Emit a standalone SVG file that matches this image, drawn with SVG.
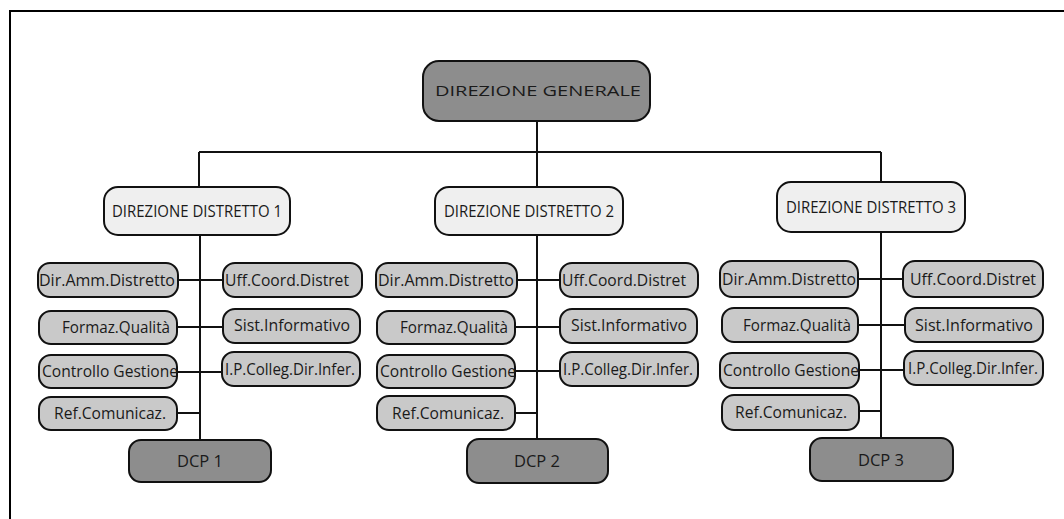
<svg xmlns="http://www.w3.org/2000/svg" width="1064" height="519" viewBox="0 0 1064 519">
<style>
.sub{fill:#c9c9c9;stroke:#111;stroke-width:2}
.dist{fill:#efefef;stroke:#111;stroke-width:2}
.dark{fill:#8d8d8d;stroke:#111;stroke-width:2}
.t{font-family:"Open Sans","Liberation Sans",sans-serif;font-size:16px;fill:#1a1a1a;text-anchor:middle}
.g{font-size:14px}
.c{stroke:#111;stroke-width:2;fill:none}
</style>
<rect width="1064" height="519" fill="#fff"/>
<path d="M10,519 V11 H1064" fill="none" stroke="#000" stroke-width="2"/>
<g id="connectors">
<path class="c" d="M537,121 V152 M199,152 H881 M199,152 V187 M537,152 V187 M881,152 V182"/>
<path class="c" d="M200,235 V440 M178,280 H223 M177,327 H223 M177,372 H222 M177,413 H200"/>
<path class="c" d="M537,235 V439 M517,280 H560 M515,327 H560 M515,371 H560 M515,413 H537"/>
<path class="c" d="M881,232 V438 M858,279 H903 M858,325 H905 M859,370 H904 M859,411 H881"/>
</g>
<g id="dg"><rect class="dark" x="423" y="61" width="227" height="60" rx="16"/><text class="t g" x="538" y="96" textLength="206" lengthAdjust="spacingAndGlyphs">DIREZIONE GENERALE</text></g>

<g id="dist1"><rect class="dist" x="104" y="187" width="186" height="48" rx="14"/><text class="t" x="197" y="217" textLength="170" lengthAdjust="spacingAndGlyphs">DIREZIONE DISTRETTO 1</text></g>
<g id="d1-amm"><rect class="sub" x="38" y="263" width="140" height="34" rx="12"/><text class="t" x="107" y="286" textLength="136" lengthAdjust="spacingAndGlyphs">Dir.Amm.Distretto</text></g>
<g id="d1-uff"><rect class="sub" x="223" y="263" width="139" height="34" rx="12"/><text class="t" x="287" y="286" textLength="124" lengthAdjust="spacingAndGlyphs">Uff.Coord.Distret</text></g>
<g id="d1-form"><rect class="sub" x="39" y="311" width="138" height="33" rx="12"/><text class="t" x="116" y="333" textLength="108" lengthAdjust="spacingAndGlyphs">Formaz.Qualità</text></g>
<g id="d1-sist"><rect class="sub" x="223" y="309" width="137" height="34" rx="12"/><text class="t" x="292" y="331" textLength="116" lengthAdjust="spacingAndGlyphs">Sist.Informativo</text></g>
<g id="d1-ctrl"><rect class="sub" x="39" y="355" width="138" height="33" rx="12"/><text class="t" x="110" y="377" textLength="136" lengthAdjust="spacingAndGlyphs">Controllo Gestione</text></g>
<g id="d1-ip"><rect class="sub" x="222" y="352" width="138" height="34" rx="12"/><text class="t" x="290" y="375" textLength="130" lengthAdjust="spacingAndGlyphs">I.P.Colleg.Dir.Infer.</text></g>
<g id="d1-ref"><rect class="sub" x="39" y="397" width="138" height="33" rx="12"/><text class="t" x="110" y="419" textLength="112" lengthAdjust="spacingAndGlyphs">Ref.Comunicaz.</text></g>
<g id="dcp1"><rect class="dark" x="129" y="440" width="142" height="42" rx="12"/><text class="t" x="200" y="467" textLength="46" lengthAdjust="spacingAndGlyphs">DCP 1</text></g>

<g id="dist2"><rect class="dist" x="435" y="187" width="188" height="48" rx="14"/><text class="t" x="529" y="217" textLength="170" lengthAdjust="spacingAndGlyphs">DIREZIONE DISTRETTO 2</text></g>
<g id="d2-amm"><rect class="sub" x="376" y="263" width="141" height="34" rx="12"/><text class="t" x="446" y="286" textLength="136" lengthAdjust="spacingAndGlyphs">Dir.Amm.Distretto</text></g>
<g id="d2-uff"><rect class="sub" x="560" y="263" width="138" height="34" rx="12"/><text class="t" x="624" y="286" textLength="124" lengthAdjust="spacingAndGlyphs">Uff.Coord.Distret</text></g>
<g id="d2-form"><rect class="sub" x="377" y="311" width="138" height="33" rx="12"/><text class="t" x="454" y="333" textLength="108" lengthAdjust="spacingAndGlyphs">Formaz.Qualità</text></g>
<g id="d2-sist"><rect class="sub" x="560" y="309" width="137" height="34" rx="12"/><text class="t" x="629" y="331" textLength="116" lengthAdjust="spacingAndGlyphs">Sist.Informativo</text></g>
<g id="d2-ctrl"><rect class="sub" x="377" y="355" width="138" height="33" rx="12"/><text class="t" x="448" y="377" textLength="136" lengthAdjust="spacingAndGlyphs">Controllo Gestione</text></g>
<g id="d2-ip"><rect class="sub" x="560" y="352" width="138" height="34" rx="12"/><text class="t" x="628" y="375" textLength="130" lengthAdjust="spacingAndGlyphs">I.P.Colleg.Dir.Infer.</text></g>
<g id="d2-ref"><rect class="sub" x="377" y="396" width="138" height="34" rx="12"/><text class="t" x="448" y="419" textLength="112" lengthAdjust="spacingAndGlyphs">Ref.Comunicaz.</text></g>
<g id="dcp2"><rect class="dark" x="467" y="439" width="141" height="44" rx="12"/><text class="t" x="537" y="467" textLength="46" lengthAdjust="spacingAndGlyphs">DCP 2</text></g>

<g id="dist3"><rect class="dist" x="777" y="182" width="188" height="50" rx="14"/><text class="t" x="871" y="213" textLength="170" lengthAdjust="spacingAndGlyphs">DIREZIONE DISTRETTO 3</text></g>
<g id="d3-amm"><rect class="sub" x="720" y="261" width="138" height="36" rx="12"/><text class="t" x="789" y="285" textLength="134" lengthAdjust="spacingAndGlyphs">Dir.Amm.Distretto</text></g>
<g id="d3-uff"><rect class="sub" x="903" y="261" width="140" height="36" rx="12"/><text class="t" x="973" y="285" textLength="126" lengthAdjust="spacingAndGlyphs">Uff.Coord.Distret</text></g>
<g id="d3-form"><rect class="sub" x="722" y="308" width="136" height="34" rx="12"/><text class="t" x="797" y="331" textLength="108" lengthAdjust="spacingAndGlyphs">Formaz.Qualità</text></g>
<g id="d3-sist"><rect class="sub" x="905" y="308" width="138" height="34" rx="12"/><text class="t" x="974" y="331" textLength="118" lengthAdjust="spacingAndGlyphs">Sist.Informativo</text></g>
<g id="d3-ctrl"><rect class="sub" x="720" y="353" width="139" height="35" rx="12"/><text class="t" x="791" y="376" textLength="136" lengthAdjust="spacingAndGlyphs">Controllo Gestione</text></g>
<g id="d3-ip"><rect class="sub" x="904" y="351" width="139" height="34" rx="12"/><text class="t" x="973" y="374" textLength="130" lengthAdjust="spacingAndGlyphs">I.P.Colleg.Dir.Infer.</text></g>
<g id="d3-ref"><rect class="sub" x="722" y="395" width="137" height="35" rx="12"/><text class="t" x="791" y="418" textLength="112" lengthAdjust="spacingAndGlyphs">Ref.Comunicaz.</text></g>
<g id="dcp3"><rect class="dark" x="810" y="438" width="143" height="43" rx="12"/><text class="t" x="881" y="466" textLength="46" lengthAdjust="spacingAndGlyphs">DCP 3</text></g>
</svg>
